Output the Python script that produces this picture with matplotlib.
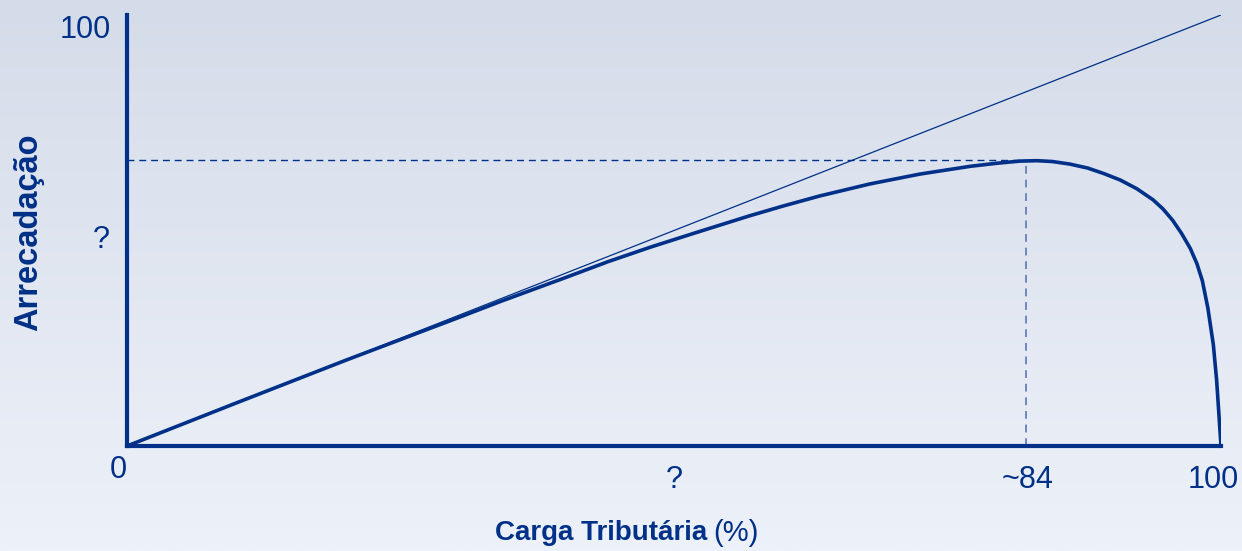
import numpy as np
import matplotlib
matplotlib.use("Agg")
import matplotlib.pyplot as plt

# Laffer curve, values (tax burden % -> revenue)
carga = [0, 10, 20, 30, 34.1, 40, 44, 47.8, 52, 56.9, 60, 63.3, 67.9, 72.5,
         77.1, 79.5, 81.6, 83.2, 84.6, 86.2, 87.8, 89.3, 90.8, 92.3, 93.8,
         94.7, 95.6, 96.4, 97.2, 97.8, 98.3, 98.8, 99.3, 99.6, 99.8, 99.9, 100]
arrecadacao = [0, 10, 19.9, 29.5, 33.5, 39.0, 42.8, 46.1, 49.5, 53.4, 55.7,
               58.0, 60.8, 63.1, 64.9, 65.6, 66.1, 66.2, 66.0, 65.4, 64.5,
               63.2, 61.7, 59.7, 57.1, 55.0, 52.3, 49.3, 45.8, 42.3, 38.3,
               32.0, 23.5, 15.3, 7.7, 3.8, 0]
linha_x = [0, 100]
linha_y = [0, 100]
pico_x = 82.2
pico_y = 66.4

x_ticks = [0, 50, 82.2, 100]
x_labels = ["0", "?", "~84", "100"]
y_ticks = [96.5, 47.8]
y_labels = ["100", "?"]

azul = "#003087"
plt.rcParams['font.family'] = ['Liberation Sans', 'DejaVu Sans']

fig = plt.figure(figsize=(12.42, 5.51), dpi=100)

# background gradient
bg = fig.add_axes([0, 0, 1, 1], zorder=-10)
grad = np.linspace(0, 1, 256).reshape(-1, 1)
top = np.array([213, 220, 233]) / 255
bot = np.array([237, 241, 249]) / 255
img = top + (bot - top) * grad[:, :, None]
bg.imshow(img, aspect='auto', extent=[0, 1, 0, 1])
bg.axis('off')

ax = fig.add_axes([127 / 1242, 105 / 551, 1094 / 1242, 431 / 551])
ax.patch.set_alpha(0)
ax.set_xlim(0, 100)
ax.set_ylim(0, 100)

ax.plot(linha_x, linha_y, color=azul, lw=0.9, zorder=3)
ax.plot(carga, arrecadacao, color=azul, lw=2.6, zorder=4,
        solid_capstyle='round', solid_joinstyle='round')
ax.plot([0, pico_x], [pico_y, pico_y], color=azul, lw=1.0, ls=(0, (5, 3.5)), zorder=2)
ax.plot([pico_x, pico_x], [0, pico_y], color="#6e87be", lw=1.4, ls=(0, (4, 3)), zorder=2)

for s in ['top', 'right']:
    ax.spines[s].set_visible(False)
for s in ['left', 'bottom']:
    ax.spines[s].set_linewidth(3)
    ax.spines[s].set_color(azul)
    ax.spines[s].set_zorder(5)
ax.set_xticks([])
ax.set_yticks([])

# tick labels
fs = 22
ax.text(-0.8, -5.6, x_labels[0], fontsize=fs, color=azul, ha='center', va='center')
ax.text(50.0, -8.0, x_labels[1], fontsize=fs, color=azul, ha='center', va='center')
ax.text(82.3, -8.0, x_labels[2], fontsize=fs, color=azul, ha='center', va='center')
ax.text(99.3, -8.0, x_labels[3], fontsize=fs, color=azul, ha='center', va='center')
ax.text(-1.5, y_ticks[0], y_labels[0], fontsize=fs, color=azul, ha='right', va='center')
ax.text(-1.6, y_ticks[1], y_labels[1], fontsize=fs, color=azul, ha='right', va='center')

# axis titles
fig.text(707 / 1242, 1 - 533 / 551, "Carga Tributária", fontsize=20, fontweight='bold',
         color=azul, ha='right', va='center')
fig.text(713 / 1242, 1 - 533 / 551, "(%)", fontsize=21, color=azul, ha='left', va='center')
fig.text(29 / 1242, 1 - 232 / 551, "Arrecadação", fontsize=23.5, fontweight='bold',
         color=azul, ha='center', va='center', rotation=90)

fig.savefig("out.png", dpi=100)
